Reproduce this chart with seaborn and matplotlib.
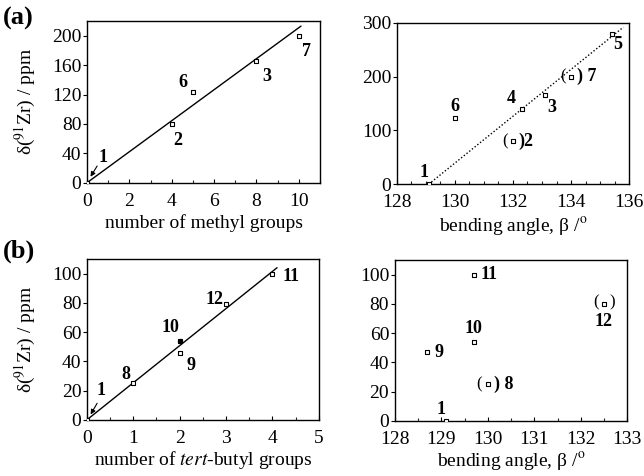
import matplotlib
matplotlib.use("Agg")
import matplotlib.pyplot as plt
import seaborn as sns
from matplotlib.ticker import MultipleLocator

sns.set_theme(style="ticks")
plt.rcParams['font.family'] = ['Liberation Serif', 'DejaVu Serif']
plt.rcParams['mathtext.fontset'] = 'stix'

# ---- data ----
# (a) left: number of methyl groups vs shift
a_methyl = [0, 4, 5, 8, 10]
a_shift = [0, 80, 123, 166, 200]
a_labels = ["1", "2", "6", "3", "7"]
a_fit_x = [0, 10.1]
a_fit_y = [0, 213]

# (a) right: bending angle vs shift
ar_angle = [129.1, 132.0, 130.0, 132.3, 133.1, 134.0, 135.4]
ar_shift = [0, 80, 123, 140, 166, 200, 280]
ar_labels = ["1", "2", "6", "4", "3", "7", "5"]
ar_fit_x = [129.1, 135.8]
ar_fit_y = [0, 292]

# (b) left: number of tert-butyl groups vs shift
b_tbu = [0, 1, 2, 2, 3, 4]
b_shift = [0, 25, 46, 54, 79, 100]
b_labels = ["1", "8", "9", "10", "12", "11"]
b_fit_x = [0, 4.1]
b_fit_y = [0, 104]

# (b) right: bending angle vs shift
br_angle = [129.1, 128.7, 129.7, 129.7, 130.0, 132.5]
br_shift = [0, 47, 54, 100, 25, 80]
br_labels = ["1", "9", "10", "11", "8", "12"]

fig = plt.figure(figsize=(6.44, 4.76), dpi=100)
ax1 = fig.add_axes([0.135, 0.616, 0.362, 0.340])
ax2 = fig.add_axes([0.616, 0.613, 0.361, 0.339])
ax3 = fig.add_axes([0.135, 0.118, 0.360, 0.338])
ax4 = fig.add_axes([0.613, 0.116, 0.361, 0.338])

mk = dict(marker='s', s=11, facecolor='white', edgecolor='black', linewidth=0.8, zorder=3)
FS = 14

def style(ax):
    for sp in ax.spines.values():
        sp.set_linewidth(1.0)
        sp.set_color('black')
    ax.tick_params(axis='y', direction='out', length=3, width=0.8, labelsize=FS, pad=1, colors='black')
    ax.tick_params(axis='x', which='major', direction='in', length=3, width=0.8, labelsize=FS, pad=7, colors='black')
    ax.tick_params(axis='x', which='minor', direction='in', length=2, width=0.8)
    ax.grid(False)
    ax.set_facecolor('white')

lab = dict(fontsize=13, fontweight='bold', color='black')
par = dict(fontsize=12, color='black')
ylab = "δ($^{91}$Zr) / ppm"
blab = "bending angle, β /$^{\\rm o}$"

# ---- (a) left ----
sns.lineplot(x=a_fit_x, y=a_fit_y, ax=ax1, color='black', linewidth=1.0)
sns.scatterplot(x=a_methyl, y=a_shift, ax=ax1, **mk)
ax1.set_xlim(0, 11)
ax1.set_ylim(0, 220)
ax1.set_xticks([0, 2, 4, 6, 8, 10])
ax1.xaxis.set_minor_locator(MultipleLocator(1))
ax1.set_yticks([0, 40, 80, 120, 160, 200])
offs = {"1": (0.75, 34), "2": (4.3, 58), "6": (4.55, 137), "3": (8.5, 145), "7": (10.35, 178)}
for l in a_labels:
    ax1.text(*offs[l], l, ha='center', va='center', **lab)
ax1.annotate("", xy=(0.1, 5), xytext=(0.55, 26),
             arrowprops=dict(arrowstyle='-|>', color='black', lw=0.8, mutation_scale=7))
ax1.set_xlabel("number of methyl groups", fontsize=FS, labelpad=3, color='black')
ax1.set_ylabel(ylab, fontsize=FS, labelpad=10, color='black')
style(ax1)

# ---- (a) right ----
sns.lineplot(x=ar_fit_x, y=ar_fit_y, ax=ax2, color='black', linewidth=1.0, linestyle=(0, (1, 1.5)))
sns.scatterplot(x=ar_angle, y=ar_shift, ax=ax2, **mk)
ax2.set_xlim(128, 136)
ax2.set_ylim(0, 300)
ax2.set_xticks([128, 130, 132, 134, 136])
ax2.xaxis.set_minor_locator(MultipleLocator(0.5))
ax2.set_yticks([0, 100, 200, 300])
ax2.text(128.95, 22, "1", ha='center', va='center', **lab)
ax2.text(130.0, 145, "6", ha='center', va='center', **lab)
ax2.text(131.95, 160, "4", ha='center', va='center', **lab)
ax2.text(133.35, 143, "3", ha='center', va='center', **lab)
ax2.text(135.6, 260, "5", ha='center', va='center', **lab)
ax2.text(131.72, 80, "(", ha='center', va='center', **par)
ax2.text(132.2, 80, ")2", ha='left', va='center', fontsize=13, fontweight='bold', color='black')
ax2.text(133.72, 200, "(", ha='center', va='center', **par)
ax2.text(134.2, 200, ") 7", ha='left', va='center', fontsize=13, fontweight='bold', color='black')
ax2.set_xlabel(blab, fontsize=FS, labelpad=3, color='black')
style(ax2)

# ---- (b) left ----
sns.lineplot(x=b_fit_x, y=b_fit_y, ax=ax3, color='black', linewidth=1.0)
sns.scatterplot(x=b_tbu, y=b_shift, ax=ax3, **mk)
ax3.scatter([2], [54], marker='o', s=8, color='black', zorder=4)
ax3.set_xlim(0, 5)
ax3.set_ylim(0, 110)
ax3.set_xticks([0, 1, 2, 3, 4, 5])
ax3.xaxis.set_minor_locator(MultipleLocator(0.5))
ax3.set_yticks([0, 20, 40, 60, 80, 100])
boffs = {"1": (0.3, 20), "8": (0.85, 31), "9": (2.25, 37), "10": (1.8, 63), "12": (2.75, 82), "11": (4.4, 98)}
for l in b_labels:
    ax3.text(*boffs[l], l, ha='center', va='center', **lab)
ax3.annotate("", xy=(0.05, 2), xytext=(0.25, 13),
             arrowprops=dict(arrowstyle='-|>', color='black', lw=0.8, mutation_scale=7))
ax3.set_xlabel(r"number of $\it{tert}$-butyl groups", fontsize=FS, labelpad=2, color='black')
ax3.set_ylabel(ylab, fontsize=FS, labelpad=10, color='black')
style(ax3)

# ---- (b) right ----
sns.scatterplot(x=br_angle, y=br_shift, ax=ax4, **mk)
ax4.set_xlim(128, 133)
ax4.set_ylim(0, 110)
ax4.set_xticks([128, 129, 130, 131, 132, 133])
ax4.xaxis.set_minor_locator(MultipleLocator(0.5))
ax4.set_yticks([0, 20, 40, 60, 80, 100])
ax4.text(129.0, 8, "1", ha='center', va='center', **lab)
ax4.text(128.85, 47, "9", ha='left', va='center', **lab)
ax4.text(129.7, 63, "10", ha='center', va='center', **lab)
ax4.text(129.85, 100, "11", ha='left', va='center', **lab)
ax4.text(129.82, 25, "(", ha='center', va='center', **par)
ax4.text(130.13, 25, ") 8", ha='left', va='center', fontsize=13, fontweight='bold', color='black')
ax4.text(132.33, 81, "(", ha='center', va='center', **par)
ax4.text(132.67, 81, ")", ha='center', va='center', **par)
ax4.text(132.5, 68, "12", ha='center', va='center', **lab)
ax4.set_xlabel(blab, fontsize=FS, labelpad=2, color='black')
style(ax4)

fig.text(0.005, 0.962, "(a)", fontsize=19, fontweight='bold', ha='left', va='center', color='black')
fig.text(0.005, 0.472, "(b)", fontsize=19, fontweight='bold', ha='left', va='center', color='black')

fig.savefig("out.png", dpi=100, facecolor='white')
